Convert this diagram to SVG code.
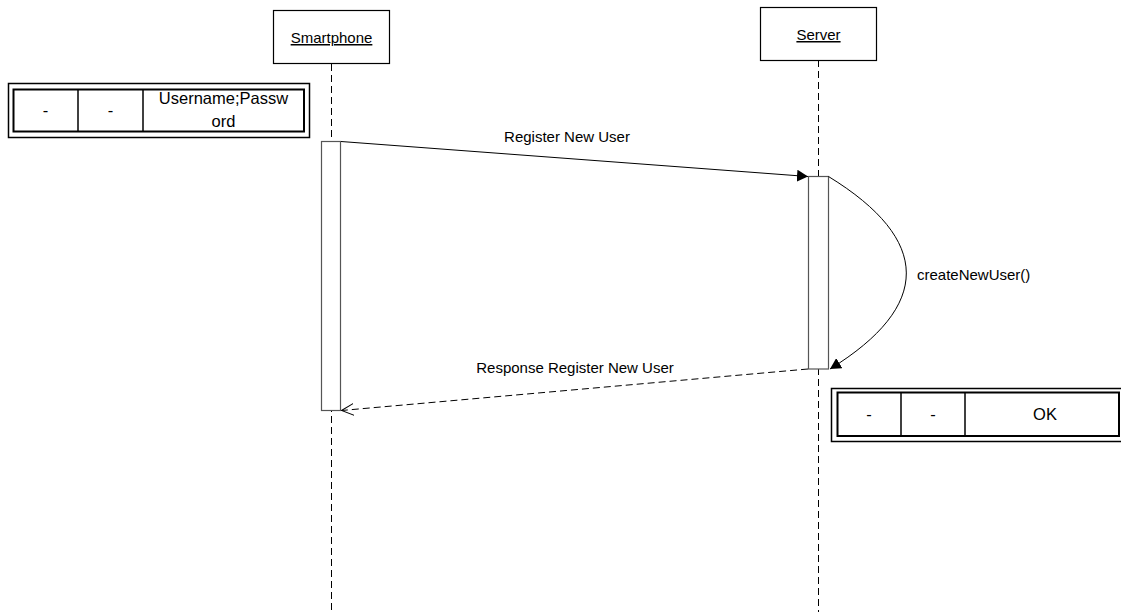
<svg xmlns="http://www.w3.org/2000/svg" width="1121" height="612" viewBox="0 0 1121 612">
<style>
text{font-family:"Liberation Sans",Arial,sans-serif;fill:#000}
.lbl{font-size:15px}
.nt{font-size:16.5px;text-anchor:middle}
.box{fill:#fff;stroke:#000;stroke-width:1.2}
.life{stroke:#000;stroke-width:1;stroke-dasharray:7,4;fill:none}
.act{fill:#fff;stroke:#555;stroke-width:1.2}
.msg{stroke:#000;stroke-width:1;fill:none}
.outer{fill:#fff;stroke:#000;stroke-width:1.5}
.inner{fill:#fff;stroke:#000;stroke-width:2}
</style>
<defs>
<marker id="filled" viewBox="0 0 11 12" refX="11" refY="6" markerWidth="11" markerHeight="12" markerUnits="userSpaceOnUse" orient="auto">
<path d="M0,0 L11,6 L0,12 z" fill="#000"/>
</marker>
<marker id="open" viewBox="0 0 13 14" refX="12.5" refY="7" markerWidth="13" markerHeight="14" markerUnits="userSpaceOnUse" orient="auto">
<path d="M0,1 L12.5,7 L0,13" fill="none" stroke="#000" stroke-width="1"/>
</marker>
</defs>

<g id="lifelines">
<line class="life" x1="331.5" y1="64" x2="331.5" y2="612"/>
<line class="life" x1="818.5" y1="60" x2="818.5" y2="612"/>
</g>

<g id="smartphone">
<rect class="box" x="273.5" y="10.5" width="116" height="53"/>
<text class="lbl" x="331.5" y="43" text-anchor="middle" text-decoration="underline">Smartphone</text>
<rect class="act" x="321.5" y="141.5" width="19" height="269"/>
</g>

<g id="server">
<rect class="box" x="760.5" y="7.5" width="116" height="53"/>
<text class="lbl" x="818.5" y="40" text-anchor="middle" text-decoration="underline">Server</text>
<rect class="act" x="808.5" y="176.5" width="20" height="192.5"/>
</g>

<g id="note-request">
<rect class="outer" x="8.5" y="83.5" width="301" height="54"/>
<rect class="inner" x="13.5" y="89.5" width="290.5" height="42"/>
<line x1="78" y1="89.5" x2="78" y2="131.5" stroke="#000" stroke-width="1.5"/>
<line x1="143" y1="89.5" x2="143" y2="131.5" stroke="#000" stroke-width="1.5"/>
<text class="nt" x="45.5" y="116">-</text>
<text class="nt" x="110.5" y="116">-</text>
<text class="nt" x="223.5" y="104">Username;Passw</text>
<text class="nt" x="223.5" y="127">ord</text>
</g>

<g id="note-response">
<rect class="outer" x="831.5" y="388.5" width="300" height="53"/>
<rect class="inner" x="837.5" y="392.5" width="281.5" height="43.5"/>
<line x1="901" y1="392.5" x2="901" y2="436" stroke="#000" stroke-width="1.5"/>
<line x1="965" y1="392.5" x2="965" y2="436" stroke="#000" stroke-width="1.5"/>
<text class="nt" x="869" y="420">-</text>
<text class="nt" x="933" y="420">-</text>
<text class="nt" x="1045" y="420">OK</text>
</g>

<g id="connectors">
<line class="msg" x1="341" y1="141.5" x2="808" y2="176.5" marker-end="url(#filled)"/>
<text class="lbl" x="567" y="142" text-anchor="middle">Register New User</text>
<path class="msg" d="M828.5,176.5 C932,240 932,306 830,369" marker-end="url(#filled)"/>
<text class="lbl" x="917" y="280">createNewUser()</text>
<line class="msg" x1="808" y1="369" x2="341.5" y2="410.5" stroke-dasharray="7,4" marker-end="url(#open)"/>
<text class="lbl" x="575" y="373" text-anchor="middle">Response Register New User</text>
</g>
</svg>
